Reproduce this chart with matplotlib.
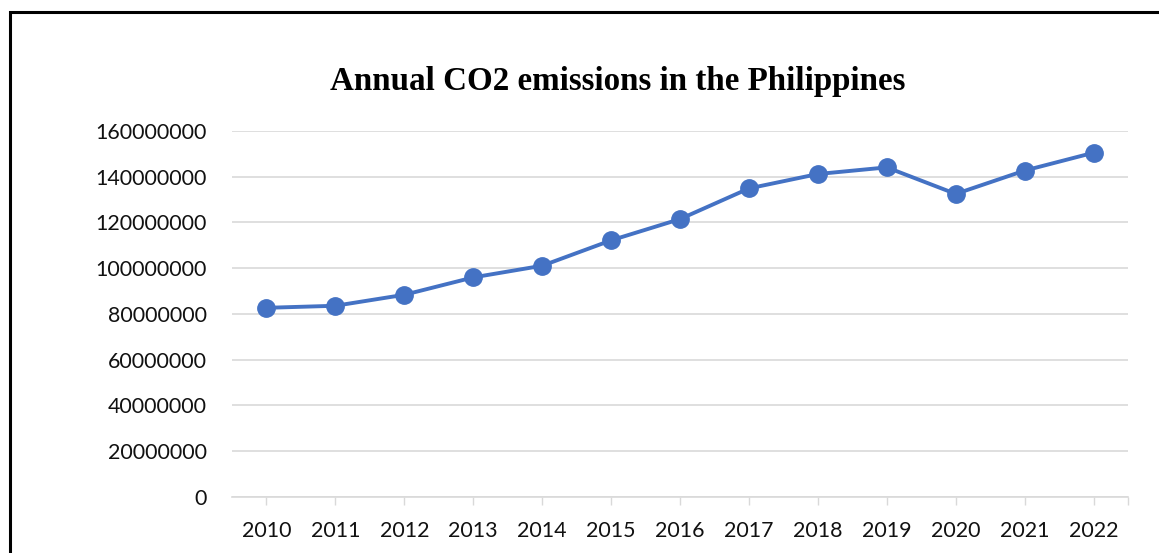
import matplotlib.pyplot as plt
from matplotlib.patches import Rectangle
from matplotlib.ticker import FixedLocator

# Annual CO2 emissions (tonnes)
years = ["2010", "2011", "2012", "2013", "2014", "2015", "2016",
         "2017", "2018", "2019", "2020", "2021", "2022"]
emissions = [82.7e6, 83.6e6, 88.4e6, 96.0e6, 101.1e6, 112.2e6, 121.5e6,
             134.9e6, 141.2e6, 144.1e6, 132.5e6, 142.7e6, 150.5e6]
y_ticks = [0, 20e6, 40e6, 60e6, 80e6, 100e6, 120e6, 140e6, 160e6]

BLUE = "#4472C4"
GRID = "#D9D9D9"

fig = plt.figure(figsize=(11.59, 5.53), dpi=100)
ax = fig.add_axes([0.2002, 0.1013, 0.7731, 0.6618])

x = list(range(len(years)))
ax.plot(x, emissions, color=BLUE, lw=2.8, marker="o", ms=12.5,
        markeredgecolor=BLUE, solid_capstyle="round", zorder=3)

ax.set_xlim(-0.5, len(years) - 0.5)
ax.set_ylim(0, 160e6)
ax.set_yticks(y_ticks)
ax.set_yticklabels([f"{int(v)}" for v in y_ticks])
ax.set_xticks(x)
ax.set_xticklabels(years)
ax.xaxis.set_minor_locator(FixedLocator([len(years) - 0.5]))

ax.grid(axis="y", color=GRID, lw=1.2)
ax.set_axisbelow(True)
for side in ("top", "right", "left"):
    ax.spines[side].set_visible(False)
ax.spines["bottom"].set_color(GRID)
ax.spines["bottom"].set_linewidth(1.2)

ax.tick_params(axis="y", length=0, pad=18, labelsize=15.4, labelcolor="#111111")
ax.tick_params(axis="x", which="both", length=5.5, width=1.0, color=GRID,
               direction="out")
ax.tick_params(axis="x", which="major", pad=12, labelsize=15.4, labelcolor="#111111")
for lbl in ax.get_xticklabels() + ax.get_yticklabels():
    lbl.set_family("Lato")

fig.text(0.533, 0.853, "Annual CO2 emissions in the Philippines",
         ha="center", va="center", family="Liberation Serif",
         fontweight="bold", fontsize=23.8)

# frame around the chart area
fig.patches.append(Rectangle((9.5 / 1159, -0.1), 1.2, 1.1 - 12.5 / 553,
                             transform=fig.transFigure, fill=False,
                             edgecolor="black", lw=2.2))

fig.savefig("out.png", dpi=100)
